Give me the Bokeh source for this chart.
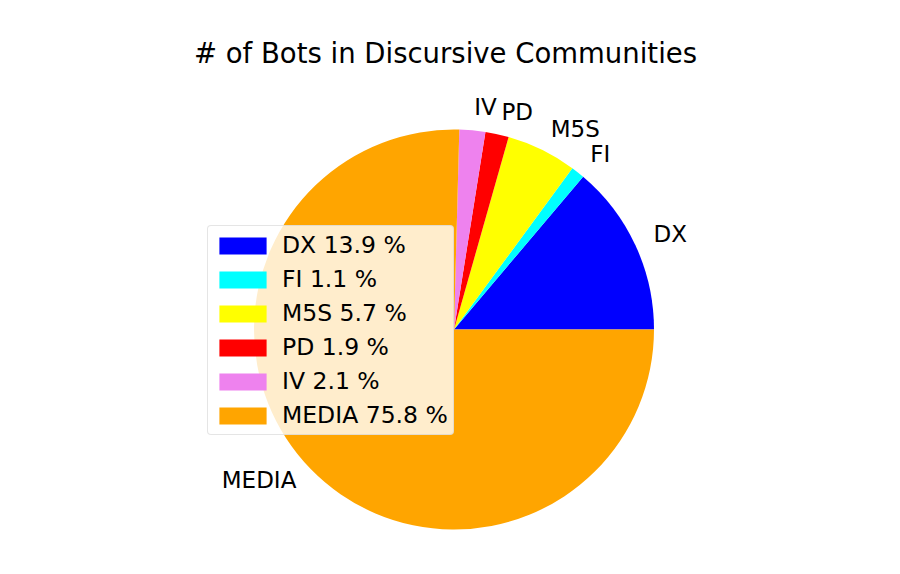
import math
from bokeh.plotting import figure
from bokeh.models import ColumnDataSource, Range1d, Legend, LegendItem
from bokeh.core.properties import value
from bokeh.embed import file_html
from bokeh.resources import INLINE

# ---- data ----
communities = ["DX", "FI", "M5S", "PD", "IV", "MEDIA"]
shares = [13.9, 1.1, 5.7, 1.9, 2.1, 75.8]
colors = ["#0000ff", "#00ffff", "#ffff00", "#ff0000", "#ee82ee", "#ffa500"]
title_text = "# of Bots in Discursive Communities"

# ---- geometry helpers (pixel-like data units) ----
R = 200.0
LABEL_DIST = 1.1
FONT = "DejaVu Sans"

total = sum(shares)
starts, ends, lx, ly, aligns = [], [], [], [], []
acc = 0.0
for s in shares:
    a0 = acc / total * 2 * math.pi
    acc += s
    a1 = acc / total * 2 * math.pi
    starts.append(a0)
    ends.append(a1)
    mid = (a0 + a1) / 2
    x = LABEL_DIST * R * math.cos(mid)
    y = LABEL_DIST * R * math.sin(mid)
    lx.append(x)
    ly.append(y)
    aligns.append("left" if x > 0 else "right")

legend_labels = [f"{c} {s} %" for c, s in zip(communities, shares)]

src = ColumnDataSource(dict(
    name=communities, start=starts, end=ends, color=colors,
    lx=lx, ly=ly, align=aligns, leg=legend_labels,
))

# page offset of canvas, frame placement (pixel units), pie centre
OX = 1
BORDER_TOP = 76
CX, CY = 454.5, 330.0
FT = OX + BORDER_TOP          # frame top (page px)
FB = 566                      # frame bottom (page px)
FW, FH = 890, FB - FT

p = figure(
    frame_width=FW, frame_height=FH,
    x_range=Range1d(OX - CX, OX + FW - CX),
    y_range=Range1d(CY - FB, CY - FT),
    output_backend="svg", toolbar_location=None,
    min_border_left=0, min_border_right=0, min_border_bottom=0,
    min_border_top=BORDER_TOP,
    background_fill_color="white", border_fill_color="white",
    outline_line_color=None,
)
p.axis.visible = False
p.xgrid.visible = False
p.ygrid.visible = False

p.title.text = title_text
p.title.align = "center"
p.title.text_font = FONT
p.title.text_font_size = "27.5px"
p.title.text_font_style = "normal"
p.title.text_color = "black"
p.title.standoff = 15

wedges = p.wedge(x=0, y=0, radius=R, start_angle="start", end_angle="end",
                 fill_color="color", line_color=None, source=src)

p.text(x="lx", y="ly", text="name", text_align="align", text_baseline="middle",
       y_offset=-3,
       text_font=value(FONT), text_font_size="23px", text_color="black", source=src)

items = [LegendItem(label=lab, renderers=[wedges], index=i) for i, lab in enumerate(legend_labels)]
legend = Legend(
    items=items,
    location=(208 - OX, FB - 436),
    label_text_font=FONT,
    label_text_font_size="23.5px",
    label_text_color="black",
    glyph_width=59, glyph_height=21,
    label_height=28,
    label_standoff=10,
    spacing=6,
    padding=5,
    margin=0,
    background_fill_color="white",
    background_fill_alpha=0.8,
    border_line_color="#cccccc",
    border_line_width=1,
    border_radius=4,
)
p.add_layout(legend)

open("out.html", "w").write(file_html(p, INLINE))
